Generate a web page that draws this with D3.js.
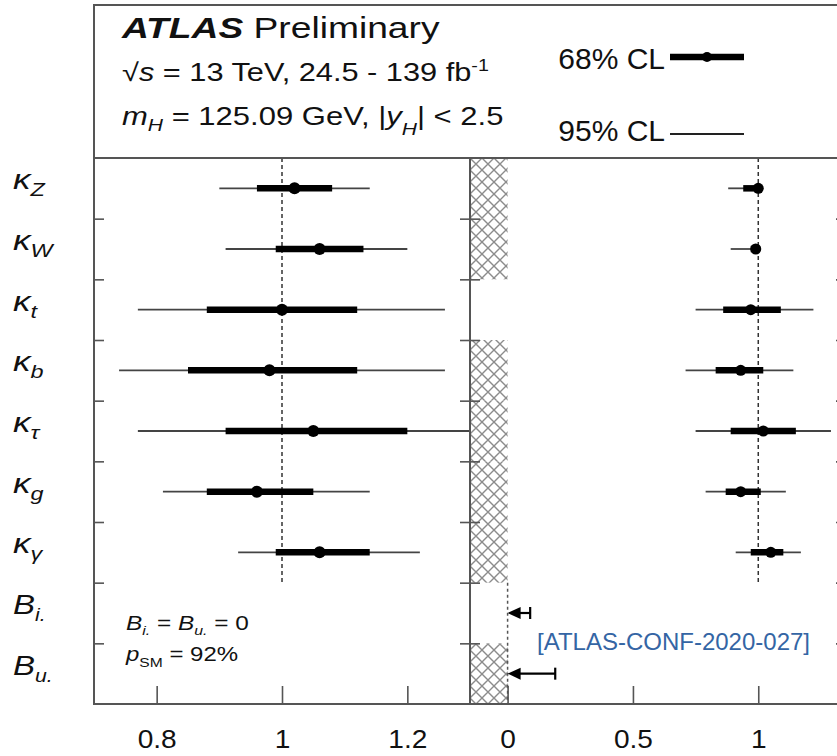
<!DOCTYPE html>
<html>
<head>
<meta charset="utf-8">
<script src="https://cdn.jsdelivr.net/npm/d3@7"></script>
<style>
  body { margin: 0; background: #fff; }
  text { font-family: 'Liberation Sans', Arial, sans-serif; }
</style>
</head>
<body>
<div id="chart"></div>
<script>
// rows, top to bottom
var categories = ["kZ", "kW", "kt", "kb", "ktau", "kg", "kgam", "Bi", "Bu"];
var labelBase = ["κ", "κ", "κ", "κ", "κ", "κ", "κ", "B", "B"];
var labelSub = ["Z", "W", "t", "b", "τ", "g", "γ", "i.", "u."];

// left panel: B_i. = B_u. = 0
var leftCentral = [1.02, 1.06, 1.00, 0.98, 1.05, 0.96, 1.06];
var left68Lo = [0.96, 0.99, 0.88, 0.85, 0.91, 0.88, 0.99];
var left68Hi = [1.08, 1.13, 1.12, 1.12, 1.20, 1.05, 1.14];
var left95Lo = [0.90, 0.91, 0.77, 0.74, 0.77, 0.81, 0.93];
var left95Hi = [1.14, 1.20, 1.26, 1.26, 1.31, 1.14, 1.22];

// right panel: B_i., B_u. free, kappa_V <= 1
var rightCentral = [1.00, 0.99, 0.97, 0.93, 1.02, 0.93, 1.05];
var right68Lo = [0.94, 0.97, 0.86, 0.83, 0.89, 0.87, 0.97];
var right68Hi = [1.00, 1.00, 1.09, 1.02, 1.15, 1.01, 1.10];
var right95Lo = [0.88, 0.89, 0.75, 0.71, 0.75, 0.79, 0.91];
var right95Hi = [1.00, 1.00, 1.22, 1.14, 1.29, 1.11, 1.17];

// 95% CL upper limits on B_i. and B_u.
var brRows = ["Bi", "Bu"];
var brUpper = [0.09, 0.19];

// rows with the hatched (excluded) band in the right panel
var hatchRows = ["kZ", "kW", "kb", "ktau", "kg", "kgam", "Bu"];

var leftTicks = [0.8, 1, 1.2];
var rightTicks = [0, 0.5, 1];

var width = 837, height = 756;
var pTop = 158, pBottom = 704, pLeft = 94, pMid = 470, pRight = 846;
var frameCol = "#555";

var svg = d3.select("#chart").append("svg")
    .attr("width", width)
    .attr("height", height);

svg.append("rect").attr("width", width).attr("height", height).attr("fill", "#fff");

var xL = d3.scaleLinear().domain([0.7, 1.3]).range([pLeft, pMid]);
var xR = d3.scaleLinear().domain([-0.15, 1.35]).range([pMid, pRight]);
var y = d3.scaleBand().domain(categories).range([pTop, pBottom]);
var yIdx = d3.scaleLinear().domain([0, categories.length]).range([pTop, pBottom]);
var yc = function(c) { return y(c) + y.bandwidth() / 2; };

var defs = svg.append("defs");
var pat = defs.append("pattern")
    .attr("id", "hatch")
    .attr("patternUnits", "userSpaceOnUse")
    .attr("x", pMid).attr("y", pTop)
    .attr("width", 12).attr("height", 12);
pat.append("rect").attr("width", 12).attr("height", 12).attr("fill", "#fff");
pat.append("path")
    .attr("d", "M0,0L12,12M12,0L0,12")
    .attr("stroke", "#8c8c8c")
    .attr("stroke-width", 1.4);

defs.append("clipPath").attr("id", "clipL").append("rect")
    .attr("x", pLeft).attr("y", pTop).attr("width", pMid - pLeft).attr("height", pBottom - pTop);
defs.append("clipPath").attr("id", "clipR").append("rect")
    .attr("x", pMid).attr("y", pTop).attr("width", pRight - pMid).attr("height", pBottom - pTop);

// hatched band
svg.append("g").selectAll("rect")
    .data(hatchRows)
    .enter().append("rect")
    .attr("x", xR(-0.15))
    .attr("y", function(d) { return y(d); })
    .attr("width", xR(0) - xR(-0.15))
    .attr("height", y.bandwidth())
    .attr("fill", "url(#hatch)");

// reference lines
var kappaEnd = y("Bi");
svg.append("line")
    .attr("x1", xL(1)).attr("x2", xL(1)).attr("y1", pTop).attr("y2", kappaEnd)
    .attr("stroke", "#333").attr("stroke-width", 1.5).attr("stroke-dasharray", "4,3");
svg.append("line")
    .attr("x1", xR(1)).attr("x2", xR(1)).attr("y1", pTop).attr("y2", kappaEnd)
    .attr("stroke", "#333").attr("stroke-width", 1.5).attr("stroke-dasharray", "4,3");
svg.append("line")
    .attr("x1", xR(0)).attr("x2", xR(0)).attr("y1", kappaEnd).attr("y2", pBottom)
    .attr("stroke", "#555").attr("stroke-width", 1.5).attr("stroke-dasharray", "3,3");

function drawBars(g, x, central, lo68, hi68, lo95, hi95, r) {
  var rows = d3.range(central.length).map(function(i) {
    return {cat: categories[i], c: central[i], a: lo68[i], b: hi68[i], lo: lo95[i], hi: hi95[i]};
  });
  g.selectAll(".l95").data(rows).enter().append("line")
      .attr("x1", function(d) { return x(d.lo); })
      .attr("x2", function(d) { return x(d.hi); })
      .attr("y1", function(d) { return yc(d.cat); })
      .attr("y2", function(d) { return yc(d.cat); })
      .attr("stroke", "#444").attr("stroke-width", 1.8);
  g.selectAll(".l68").data(rows).enter().append("line")
      .attr("x1", function(d) { return x(d.a); })
      .attr("x2", function(d) { return x(d.b); })
      .attr("y1", function(d) { return yc(d.cat); })
      .attr("y2", function(d) { return yc(d.cat); })
      .attr("stroke", "#000").attr("stroke-width", 6.5);
  g.selectAll("circle").data(rows).enter().append("circle")
      .attr("cx", function(d) { return x(d.c); })
      .attr("cy", function(d) { return yc(d.cat); })
      .attr("r", r)
      .attr("fill", "#000");
}

drawBars(svg.append("g").attr("clip-path", "url(#clipL)"), xL,
    leftCentral, left68Lo, left68Hi, left95Lo, left95Hi, 6);
drawBars(svg.append("g").attr("clip-path", "url(#clipR)"), xR,
    rightCentral, right68Lo, right68Hi, right95Lo, right95Hi, 5.5);

// upper limits on B_i. / B_u.
var br = svg.append("g");
brRows.forEach(function(r, i) {
  var yy = yc(r), x0 = xR(0), x1 = xR(brUpper[i]);
  br.append("line").attr("x1", x0 + 6).attr("x2", x1).attr("y1", yy).attr("y2", yy)
      .attr("stroke", "#000").attr("stroke-width", 2.2);
  br.append("line").attr("x1", x1).attr("x2", x1).attr("y1", yy - 6).attr("y2", yy + 6)
      .attr("stroke", "#000").attr("stroke-width", 2.2);
  br.append("path")
      .attr("d", "M" + x0 + "," + yy + "L" + (x0 + 13) + "," + (yy - 6) + "L" + (x0 + 13) + "," + (yy + 6) + "Z")
      .attr("fill", "#000");
});

// row ticks on each panel edge
var rowTicks = d3.range(1, categories.length);
function rowAxis(axis, x) {
  svg.append("g")
      .attr("transform", "translate(" + x + ",0)")
      .call(axis(yIdx).tickValues(rowTicks).tickSize(10).tickFormat(""))
      .call(function(g) { g.select(".domain").remove(); })
      .selectAll("line").attr("stroke", frameCol).attr("stroke-width", 1.6);
}
rowAxis(d3.axisRight, pLeft);
rowAxis(d3.axisLeft, pMid);
rowAxis(d3.axisRight, pMid);
rowAxis(d3.axisLeft, pRight);

// bottom axes
function bottomAxis(x, ticks) {
  var g = svg.append("g")
      .attr("transform", "translate(0," + pBottom + ")")
      .call(d3.axisBottom(x).tickValues(ticks).tickSizeInner(-18).tickSizeOuter(0)
          .tickPadding(26).tickFormat(d3.format("")));
  g.select(".domain").remove();
  g.selectAll("line").attr("stroke", frameCol).attr("stroke-width", 1.6);
  g.selectAll("text")
      .attr("fill", "#111")
      .style("font-size", "26px")
      .style("font-family", "'Liberation Sans', Arial, sans-serif")
      .attr("transform", "scale(1.08,1)");
}
bottomAxis(xL, leftTicks);
bottomAxis(xR, rightTicks);

// frame
var frame = svg.append("g").attr("fill", "none").attr("stroke", frameCol).attr("stroke-width", 2);
frame.append("path").attr("d", "M" + width + ",5H" + pLeft + "V" + pBottom + "H" + width);
frame.append("line").attr("x1", pLeft).attr("x2", width).attr("y1", pTop).attr("y2", pTop);
frame.append("line").attr("x1", pMid).attr("x2", pMid).attr("y1", pTop).attr("y2", pBottom);

// row labels
var lab = svg.append("g");
categories.forEach(function(c, i) {
  var isK = labelBase[i] === "κ";
  var t = lab.append("text")
      .attr("transform", "translate(13," + (yc(c) + 1) + ") scale(" + (isK ? 1.3 : 1.18) + ",1)")
      .attr("fill", "#111")
      .style("font-style", "italic");
  t.append("tspan").style("font-size", isK ? "27px" : "28px").text(labelBase[i]);
  t.append("tspan").attr("dy", 7).style("font-size", "18px").text(labelSub[i]);
});

// header
var t1 = svg.append("text")
    .attr("transform", "translate(122,38) scale(1.24,1)")
    .style("font-size", "30px").attr("fill", "#111");
t1.append("tspan").style("font-weight", "bold").style("font-style", "italic").text("ATLAS");
t1.append("tspan").text(" Preliminary");

var t2 = svg.append("text")
    .attr("transform", "translate(122,81) scale(1.23,1)")
    .style("font-size", "25px").attr("fill", "#111");
t2.append("tspan").text("√");
t2.append("tspan").style("font-style", "italic").text("s");
t2.append("tspan").text(" = 13 TeV, 24.5 - 139 fb");
t2.append("tspan").attr("dy", -10).style("font-size", "16px").text("-1");

var t3 = svg.append("text")
    .attr("transform", "translate(122,125) scale(1.24,1)")
    .style("font-size", "25px").attr("fill", "#111");
t3.append("tspan").style("font-style", "italic").text("m");
t3.append("tspan").attr("dy", 6).style("font-style", "italic").style("font-size", "17px").text("H");
t3.append("tspan").attr("dy", -6).text(" = 125.09 GeV, |");
t3.append("tspan").style("font-style", "italic").text("y");
t3.append("tspan").attr("dy", 10).style("font-style", "italic").style("font-size", "17px").text("H");
t3.append("tspan").attr("dy", -10).text("| < 2.5");

// legend
svg.append("text").attr("x", 665).attr("y", 69).attr("text-anchor", "end")
    .style("font-size", "30px").attr("fill", "#111").text("68% CL");
svg.append("line").attr("x1", 670).attr("x2", 744).attr("y1", 57).attr("y2", 57)
    .attr("stroke", "#000").attr("stroke-width", 6.5);
svg.append("circle").attr("cx", 707).attr("cy", 57).attr("r", 5).attr("fill", "#000");
svg.append("text").attr("x", 665).attr("y", 141).attr("text-anchor", "end")
    .style("font-size", "30px").attr("fill", "#111").text("95% CL");
svg.append("line").attr("x1", 670).attr("x2", 744).attr("y1", 134).attr("y2", 134)
    .attr("stroke", "#222").attr("stroke-width", 2);

// annotations
var a1 = svg.append("text")
    .attr("transform", "translate(126,630) scale(1.22,1)")
    .style("font-size", "20px").attr("fill", "#111");
a1.append("tspan").style("font-style", "italic").text("B");
a1.append("tspan").attr("dy", 5).style("font-style", "italic").style("font-size", "13px").text("i.");
a1.append("tspan").attr("dy", -5).text(" = ");
a1.append("tspan").style("font-style", "italic").text("B");
a1.append("tspan").attr("dy", 5).style("font-style", "italic").style("font-size", "13px").text("u.");
a1.append("tspan").attr("dy", -5).text(" = 0");

var a2 = svg.append("text")
    .attr("transform", "translate(126,661) scale(1.2,1)")
    .style("font-size", "20px").attr("fill", "#111");
a2.append("tspan").style("font-style", "italic").text("p");
a2.append("tspan").attr("dy", 6).style("font-size", "13px").text("SM");
a2.append("tspan").attr("dy", -6).text(" = 92%");

svg.append("text").attr("x", 537).attr("y", 650)
    .style("font-size", "24px").attr("fill", "#3465a4")
    .text("[ATLAS-CONF-2020-027]");
</script>
</body>
</html>
